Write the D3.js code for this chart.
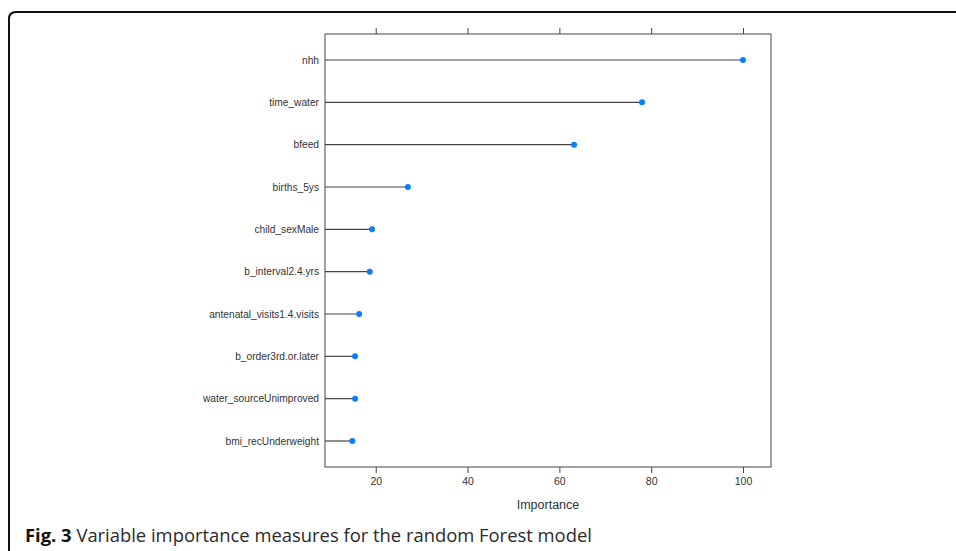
<!DOCTYPE html>
<html>
<head>
<meta charset="utf-8">
<script src="https://cdn.jsdelivr.net/npm/d3@7"></script>
<style>
  html, body { margin: 0; padding: 0; background: #fff; }
  svg { display: block; }
  .ylab, .tick text { font-family: "Liberation Sans", Arial, sans-serif; fill: #333; }
  .caption { font-family: "Open Sans", "Noto Sans", sans-serif; fill: #2a2a2a; }
</style>
</head>
<body>
<svg id="chart" width="956" height="551"></svg>
<script>
const width = 956;
const height = 551;
const panel = { left: 325, right: 771, top: 34, bottom: 467 };

const variables = [
  "nhh",
  "time_water",
  "bfeed",
  "births_5ys",
  "child_sexMale",
  "b_interval2.4.yrs",
  "antenatal_visits1.4.visits",
  "b_order3rd.or.later",
  "water_sourceUnimproved",
  "bmi_recUnderweight",
];
const importance = [100, 78.0, 63.2, 27.0, 19.2, 18.7, 16.4, 15.5, 15.5, 14.9];
const xTicks = [20, 40, 60, 80, 100];

const data = variables.map((name, i) => ({ name, value: importance[i] }));

const svg = d3.select("#chart");

// outer frame with rounded top-left corner
svg.append("path")
  .attr("d", `M9,${height + 5} L9,19 Q9,12 16,12 L${width + 5},12`)
  .attr("fill", "none")
  .attr("stroke", "#111")
  .attr("stroke-width", 2);

const x = d3.scaleLinear()
  .domain([8.95, 106.1])
  .range([panel.left, panel.right]);
const y = d3.scalePoint()
  .domain(variables)
  .range([60, 441]);

svg.append("rect")
  .attr("x", panel.left)
  .attr("y", panel.top)
  .attr("width", panel.right - panel.left)
  .attr("height", panel.bottom - panel.top)
  .attr("fill", "none")
  .attr("stroke", "#444")
  .attr("stroke-width", 1);

svg.append("g")
  .attr("transform", `translate(0,${panel.bottom})`)
  .call(d3.axisBottom(x).tickValues(xTicks).tickSize(6).tickPadding(5))
  .call((g) => g.select(".domain").remove())
  .call((g) => g.selectAll("line").attr("stroke", "#444"))
  .call((g) => g.selectAll("text").attr("font-size", 10.5));

svg.append("g")
  .attr("transform", `translate(0,${panel.top})`)
  .call(d3.axisTop(x).tickValues(xTicks).tickSize(6).tickFormat(""))
  .call((g) => g.select(".domain").remove())
  .call((g) => g.selectAll("line").attr("stroke", "#444"));

svg.append("text")
  .attr("class", "ylab")
  .attr("x", (panel.left + panel.right) / 2)
  .attr("y", 509)
  .attr("text-anchor", "middle")
  .attr("font-size", 12.5)
  .text("Importance");

svg.append("g")
  .selectAll("text")
  .data(data)
  .join("text")
  .attr("class", "ylab")
  .attr("x", panel.left - 6)
  .attr("y", (d) => y(d.name))
  .attr("dy", "0.35em")
  .attr("text-anchor", "end")
  .attr("font-size", 10.2)
  .text((d) => d.name);

svg.append("g")
  .selectAll("line")
  .data(data)
  .join("line")
  .attr("x1", panel.left)
  .attr("x2", (d) => x(d.value))
  .attr("y1", (d) => y(d.name))
  .attr("y2", (d) => y(d.name))
  .attr("stroke", "#444")
  .attr("stroke-width", 1.2);

svg.append("g")
  .selectAll("circle")
  .data(data)
  .join("circle")
  .attr("cx", (d) => x(d.value))
  .attr("cy", (d) => y(d.name))
  .attr("r", 3)
  .attr("fill", "#0a7dff");

const caption = svg.append("text")
  .attr("class", "caption")
  .attr("x", 25)
  .attr("y", 542)
  .attr("font-size", 18.4);
caption.append("tspan").attr("font-weight", "bold").attr("fill", "#111").text("Fig. 3");
caption.append("tspan").text(" Variable importance measures for the random Forest model");
</script>
</body>
</html>
